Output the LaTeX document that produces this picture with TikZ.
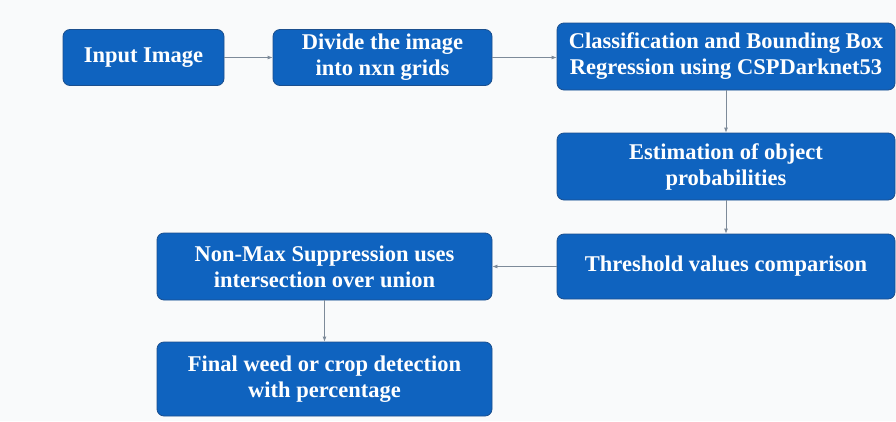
\documentclass[tikz,border=0pt]{standalone}
\usepackage{fontspec}
\setmainfont{Liberation Serif}
\usetikzlibrary{arrows.meta}
\definecolor{boxblue}{HTML}{0F63BF}
\definecolor{boxedge}{HTML}{1B4F8E}
\definecolor{linegray}{HTML}{7D8A99}
\definecolor{bg}{HTML}{F9FAFB}
\tikzset{
  stepbox/.style={draw=boxedge, line width=0.8pt, fill=boxblue, rounded corners=7pt,
    text=white, font=\bfseries\fontsize{22.5}{26}\selectfont, align=center, inner sep=0pt},
  conn/.style={draw=linegray, line width=0.8pt, -{Latex[length=5pt,width=4pt]}}
}
\begin{document}
\begin{tikzpicture}[x=1pt,y=-1pt]
\fill[bg] (0,0) rectangle (896,421);
\useasboundingbox (0,0) rectangle (896,421);
\node[stepbox, minimum width=161pt, minimum height=56pt] (in) at (143.5,57.5) {Input Image};
\node[stepbox, minimum width=219pt, minimum height=56pt] (div) at (382.5,57.5) {Divide the image\\into nxn grids};
\node[stepbox, minimum width=338pt, minimum height=67pt] (cls) at (726,56.5) {Classification and Bounding Box\\Regression using CSPDarknet53};
\node[stepbox, minimum width=338pt, minimum height=67pt] (est) at (726,166.5) {Estimation of object\\probabilities};
\node[stepbox, minimum width=338pt, minimum height=65pt] (thr) at (726,266.5) {Threshold values comparison};
\node[stepbox, minimum width=335pt, minimum height=67pt] (nms) at (324.5,266.5) {Non-Max Suppression uses\\intersection over union};
\node[stepbox, minimum width=335pt, minimum height=74pt] (fin) at (324.5,379) {Final weed or crop detection\\with percentage};
\draw[conn] (in) -- (div);
\draw[conn] (div.east) -- (div.east -| cls.west);
\draw[conn] (cls) -- (est);
\draw[conn] (est) -- (thr);
\draw[conn] (thr) -- (nms);
\draw[conn] (nms) -- (fin);
\end{tikzpicture}
\end{document}
